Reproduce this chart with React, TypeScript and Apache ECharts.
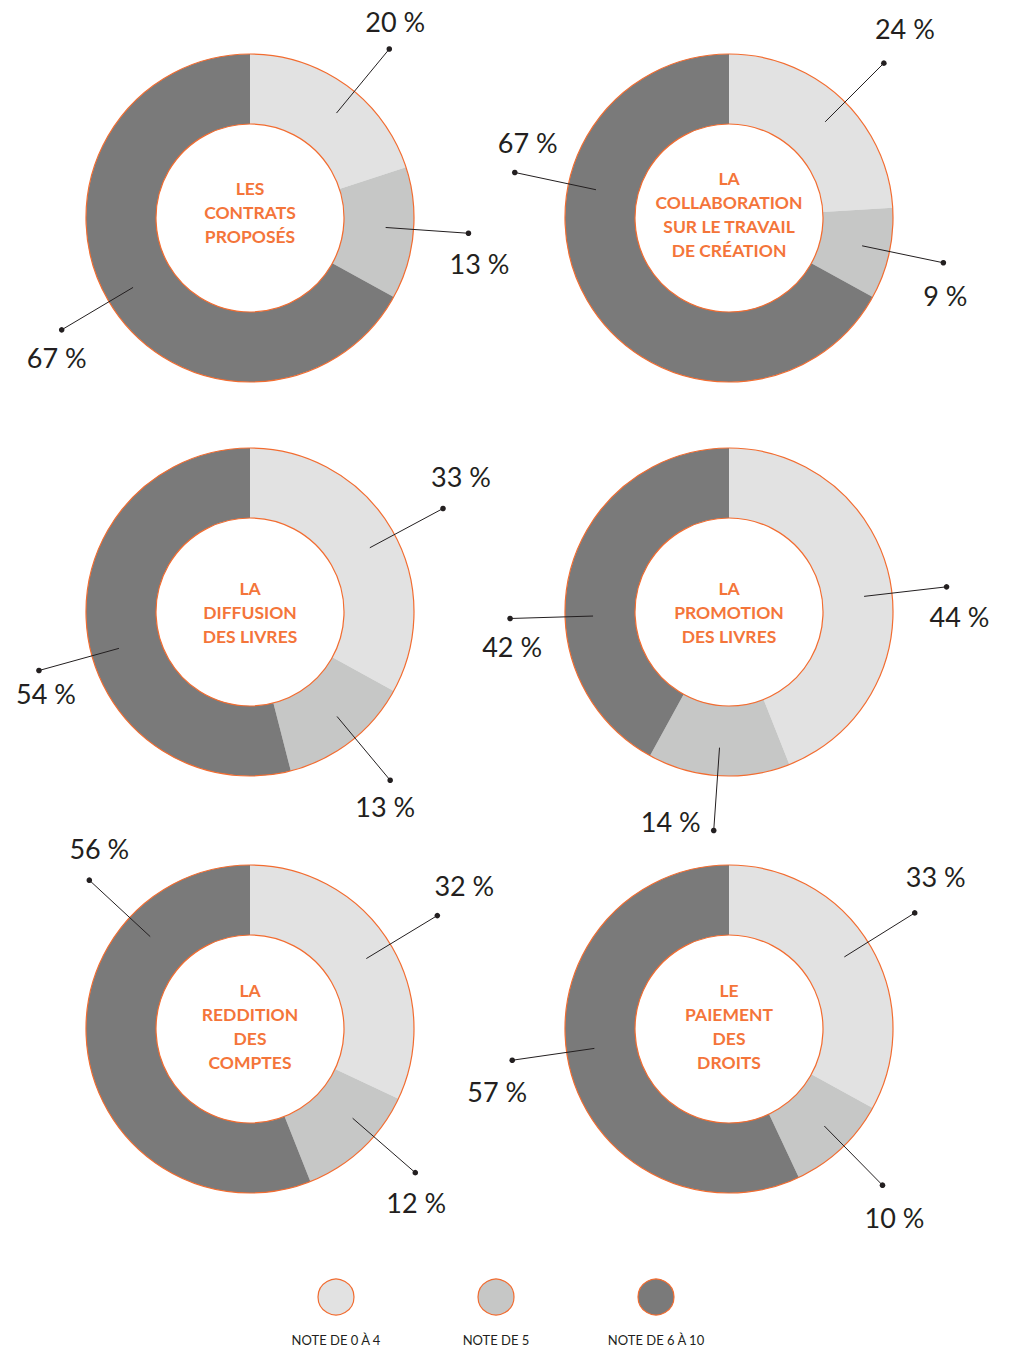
import React, { useEffect, useRef } from 'react';
import * as echarts from 'echarts';

// ---- Data ----
const CATEGORIES = ['NOTE DE 0 À 4', 'NOTE DE 5', 'NOTE DE 6 À 10'];

const CONTRATS = [20, 13, 67];
const COLLABORATION = [24, 9, 67];
const DIFFUSION = [33, 13, 54];
const PROMOTION = [44, 14, 42];
const REDDITION = [32, 12, 56];
const PAIEMENT = [33, 10, 57];

const CHART_VALUES = [CONTRATS, COLLABORATION, DIFFUSION, PROMOTION, REDDITION, PAIEMENT];

const CHART_TITLES = [
  ['LES', 'CONTRATS', 'PROPOSÉS'],
  ['LA', 'COLLABORATION', 'SUR LE TRAVAIL', 'DE CRÉATION'],
  ['LA', 'DIFFUSION', 'DES LIVRES'],
  ['LA', 'PROMOTION', 'DES LIVRES'],
  ['LA', 'REDDITION', 'DES', 'COMPTES'],
  ['LE', 'PAIEMENT', 'DES', 'DROITS'],
];

// ---- Styles / layout ----
const COLORS = ['#e2e2e2', '#c6c7c6', '#7a7a7a'];
const ORANGE = '#f26c30';
const TEXT_ORANGE = '#f4753a';
const INK = '#231f20';

const CENTERS: number[][] = [
  [250, 218],
  [729, 218],
  [250, 612],
  [729, 612],
  [250, 1029],
  [729, 1029],
];
const TITLE_DY = [-6, -4, 0, 0, -3, -3];
const R_IN = 94;
const R_OUT = 164;
const LINE_R0 = 136;
const LINE_R1 = 219;

// angle (degrees clockwise from 12 o'clock) of each leader line
const LABEL_ANGLES: number[][] = [
  [39.5, 94, 239.3],
  [45, 101.8, 282],
  [61.8, 140.2, 254.5],
  [83.4, 184, 268.3],
  [58.8, 131, 312.8],
  [58, 135.5, 261.8],
];
// label offset from the leader line's dot
const LABEL_OFFSETS: number[][][] = [
  [[6, -28], [11, 30], [-5, 28]],
  [[21, -35], [2, 33], [13, -30]],
  [[18, -32], [-5, 26], [7, 23]],
  [[13, 30], [-43, -9], [2, 28]],
  [[27, -30], [1, 30], [10, -32]],
  [[21, -36], [12, 32], [-15, 31]],
];

const LEGEND_X = [336, 496, 656];
const LEGEND_Y = 1297;

function polar(c: number[], angleDeg: number, r: number): number[] {
  const a = (angleDeg * Math.PI) / 180;
  return [c[0] + r * Math.sin(a), c[1] - r * Math.cos(a)];
}

export default function App() {
  const ref = useRef<HTMLDivElement>(null);

  useEffect(() => {
    if (!ref.current) return;
    const chart = echarts.init(ref.current, undefined, { renderer: 'svg' });

    const series: any[] = [];
    const graphic: any[] = [];

    CHART_VALUES.forEach((values, i) => {
      const c = CENTERS[i];
      series.push({
        type: 'pie',
        center: c,
        radius: [R_IN, R_OUT],
        startAngle: 90,
        clockwise: true,
        silent: true,
        label: { show: false },
        labelLine: { show: false },
        itemStyle: { borderWidth: 0 },
        data: values.map((v, k) => ({
          name: CATEGORIES[k],
          value: v,
          itemStyle: { color: COLORS[k] },
        })),
        z: 2,
      });
      // orange outline ring
      series.push({
        type: 'pie',
        center: c,
        radius: [R_IN, R_OUT],
        silent: true,
        label: { show: false },
        labelLine: { show: false },
        data: [
          {
            value: 1,
            itemStyle: { color: 'rgba(0,0,0,0)', borderColor: ORANGE, borderWidth: 1.2 },
          },
        ],
        z: 3,
      });

      // center title
      graphic.push({
        type: 'text',
        x: c[0],
        y: c[1] + TITLE_DY[i],
        z: 10,
        style: {
          text: CHART_TITLES[i].join('\n'),
          align: 'center',
          verticalAlign: 'middle',
          lineHeight: 24,
          fontSize: 17.5,
          fontWeight: 'bold',
          fontFamily: 'Lato, "Noto Sans", sans-serif',
          fill: TEXT_ORANGE,
        },
      });

      // leader lines and value labels
      values.forEach((v, k) => {
        const ang = LABEL_ANGLES[i][k];
        const p0 = polar(c, ang, LINE_R0);
        const p1 = polar(c, ang, LINE_R1);
        graphic.push({
          type: 'line',
          z: 10,
          shape: { x1: p0[0], y1: p0[1], x2: p1[0], y2: p1[1] },
          style: { stroke: INK, lineWidth: 1 },
        });
        graphic.push({
          type: 'circle',
          z: 10,
          shape: { cx: p1[0], cy: p1[1], r: 2.8 },
          style: { fill: INK },
        });
        const off = LABEL_OFFSETS[i][k];
        graphic.push({
          type: 'text',
          z: 10,
          x: p1[0] + off[0],
          y: p1[1] + off[1],
          style: {
            text: `${v} %`,
            align: 'center',
            verticalAlign: 'middle',
            fontSize: 27,
            fontWeight: 'normal',
            fontFamily: 'Lato, "Noto Sans", sans-serif',
            fill: INK,
          },
        });
      });
    });

    // legend
    CATEGORIES.forEach((name, k) => {
      graphic.push({
        type: 'circle',
        z: 10,
        shape: { cx: LEGEND_X[k], cy: LEGEND_Y, r: 18 },
        style: { fill: COLORS[k], stroke: ORANGE, lineWidth: 1.2 },
      });
      graphic.push({
        type: 'text',
        z: 10,
        x: LEGEND_X[k],
        y: LEGEND_Y + 43,
        style: {
          text: name,
          align: 'center',
          verticalAlign: 'middle',
          fontSize: 13,
          fontWeight: 'normal',
          fontFamily: 'Lato, "Noto Sans", sans-serif',
          fill: INK,
        },
      });
    });

    chart.setOption({
      animation: false,
      backgroundColor: '#ffffff',
      series,
      graphic,
    });

    return () => {
      chart.dispose();
    };
  }, []);

  return (
    <div
      ref={ref}
      style={{ position: 'absolute', left: 0, top: 0, width: 1013, height: 1347 }}
    />
  );
}
